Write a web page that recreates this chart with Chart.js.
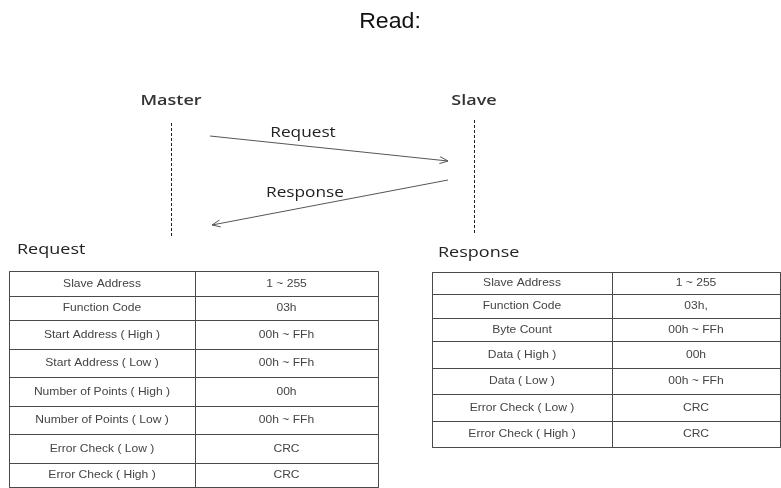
<!DOCTYPE html>
<html>
<head>
<meta charset="utf-8">
<script src="https://cdn.jsdelivr.net/npm/chart.js@4.4.1/dist/chart.umd.min.js"></script>
<style>
html, body { margin: 0; padding: 0; background: #fff; }
canvas { display: block; }
</style>
</head>
<body>
<canvas id="chart" width="781" height="488"></canvas>
<script>
// data
const title = "Read:";
const actors = ["Master", "Slave"];
const messages = ["Request", "Response"];

const requestFields = ["Slave Address", "Function Code", "Start Address ( High )", "Start Address ( Low )",
    "Number of Points ( High )", "Number of Points ( Low )", "Error Check ( Low )", "Error Check ( High )"];
const requestValues = ["1 ~ 255", "03h", "00h ~ FFh", "00h ~ FFh", "00h", "00h ~ FFh", "CRC", "CRC"];

const responseFields = ["Slave Address", "Function Code", "Byte Count", "Data ( High )", "Data ( Low )",
    "Error Check ( Low )", "Error Check ( High )"];
const responseValues = ["1 ~ 255", "03h,", "00h ~ FFh", "00h", "00h ~ FFh", "CRC", "CRC"];

// layout (diagram units = pixels of the 781x488 page)
const W = 781, H = 488;
const lifelines = [
    { x: 171, top: 123, bottom: 237, labelY: 101 },
    { x: 474, top: 120, bottom: 234, labelY: 101 }
];
const arrows = [
    { from: [210, 136], to: [448, 161], labelX: 303, labelY: 133 },
    { from: [448, 180], to: [212, 225], labelX: 305, labelY: 193 }
];
const tables = [
    {
        title: messages[0], titleX: 17, titleY: 250,
        cols: [9, 195, 378],
        rows: [271, 296, 320, 349, 377, 406, 434, 463, 487],
        fields: requestFields, values: requestValues
    },
    {
        title: messages[1], titleX: 438, titleY: 253,
        cols: [432, 612, 780],
        rows: [272, 294, 318, 341, 368, 394, 421, 447],
        fields: responseFields, values: responseValues
    }
];

function gap() { return { x: null, y: null }; }

function tableLines(t) {
    let pts = [];
    let l = t.cols[0] + 0.5, r = t.cols[t.cols.length - 1] + 0.5;
    let top = t.rows[0] + 0.5, bot = t.rows[t.rows.length - 1] + 0.5;
    t.rows.forEach(y => {
        pts.push({ x: l, y: y + 0.5 }, { x: r, y: y + 0.5 }, gap());
    });
    t.cols.forEach(x => {
        pts.push({ x: x + 0.5, y: top }, { x: x + 0.5, y: bot }, gap());
    });
    return pts;
}

function arrowLines(a) {
    let [x1, y1] = a.from, [x2, y2] = a.to;
    let ang = Math.atan2(y2 - y1, x2 - x1);
    let len = 9, spread = 0.4;
    return [
        { x: x1, y: y1 }, { x: x2, y: y2 }, gap(),
        { x: x2 - len * Math.cos(ang - spread), y: y2 - len * Math.sin(ang - spread) },
        { x: x2, y: y2 },
        { x: x2 - len * Math.cos(ang + spread), y: y2 - len * Math.sin(ang + spread) }
    ];
}

let datasets = [];
lifelines.forEach(l => {
    datasets.push({
        data: [{ x: l.x + 0.5, y: l.top }, { x: l.x + 0.5, y: l.bottom }],
        borderColor: "#222", borderWidth: 1, borderDash: [3, 2]
    });
});
arrows.forEach(a => {
    datasets.push({ data: arrowLines(a), borderColor: "#555", borderWidth: 1 });
});
tables.forEach(t => {
    datasets.push({ data: tableLines(t), borderColor: "#4a4a4a", borderWidth: 1 });
});
datasets.forEach(d => {
    d.showLine = true;
    d.pointRadius = 0;
    d.pointHoverRadius = 0;
    d.spanGaps = false;
    d.tension = 0;
    d.fill = false;
});

function drawText(ctx, chart, text, x, y, font, color, align, stretch) {
    const sx = chart.scales.x, sy = chart.scales.y;
    ctx.save();
    ctx.font = font;
    ctx.fillStyle = color;
    ctx.textBaseline = "middle";
    ctx.textAlign = align;
    ctx.translate(sx.getPixelForValue(x), sy.getPixelForValue(y));
    ctx.scale(stretch, 1);
    ctx.fillText(text, 0, 0);
    ctx.restore();
}

const textPlugin = {
    id: "diagramText",
    afterDatasetsDraw(chart) {
        const ctx = chart.ctx;
        drawText(ctx, chart, title, 390, 22, "22px 'Liberation Sans', Arial", "#111", "center", 1.05);

        lifelines.forEach((l, i) => {
            drawText(ctx, chart, actors[i], l.x, l.labelY, "600 15px 'Open Sans'", "#333", "center", 1.2);
        });
        arrows.forEach((a, i) => {
            drawText(ctx, chart, messages[i], a.labelX, a.labelY, "15px 'Open Sans'", "#222", "center", 1.15);
        });
        tables.forEach(t => {
            drawText(ctx, chart, t.title, t.titleX, t.titleY, "15px 'Open Sans'", "#222", "left", 1.2);
            let c0 = (t.cols[0] + t.cols[1]) / 2, c1 = (t.cols[1] + t.cols[2]) / 2;
            t.fields.forEach((f, i) => {
                let cy = (t.rows[i] + t.rows[i + 1]) / 2 + 0.5;
                drawText(ctx, chart, f, c0, cy, "10.5px 'Liberation Sans', Arial", "#444", "center", 1.15);
                drawText(ctx, chart, t.values[i], c1, cy, "10.5px 'Liberation Sans', Arial", "#444", "center", 1.15);
            });
        });
    }
};

new Chart(document.getElementById("chart"), {
    type: "scatter",
    data: { datasets: datasets },
    options: {
        responsive: false,
        animation: false,
        devicePixelRatio: 1,
        layout: { padding: 0 },
        events: [],
        scales: {
            x: { type: "linear", min: 0, max: W, display: false },
            y: { type: "linear", min: 0, max: H, reverse: true, display: false }
        },
        plugins: {
            legend: { display: false },
            tooltip: { enabled: false }
        }
    },
    plugins: [textPlugin]
});
</script>
</body>
</html>
